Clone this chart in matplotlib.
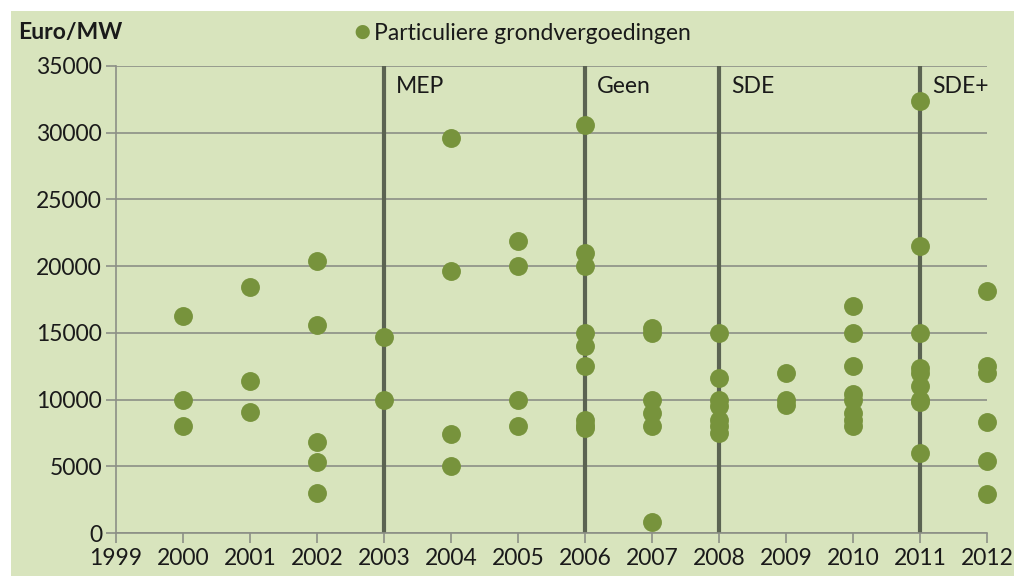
import matplotlib
matplotlib.use("Agg")
import matplotlib.pyplot as plt
from matplotlib.patches import Rectangle

plt.rcParams['font.family'] = ['Lato', 'DejaVu Sans']

# values (Euro/MW per year)
years = [2000, 2001, 2002, 2003, 2004, 2005, 2006, 2007, 2008, 2009, 2010, 2011, 2012]
values = [
    [16300, 10000, 8000],
    [18400, 11400, 9100],
    [20400, 15600, 6800, 5300, 3000],
    [14700, 10000],
    [29600, 19600, 7400, 5000],
    [21900, 20000, 10000, 8000],
    [30600, 21000, 20000, 15000, 14000, 12500, 8500, 8100, 7900],
    [15400, 15000, 10000, 9000, 8000, 800],
    [15000, 11600, 10000, 9500, 8500, 8000, 7500],
    [12000, 10000, 9600],
    [17000, 15000, 12500, 10400, 10000, 9000, 8500, 8000],
    [32400, 21500, 15000, 12400, 12000, 11000, 10000, 9800, 6000],
    [18100, 12500, 12000, 8300, 5400, 2900],
]
regime_years = [2003, 2006, 2008, 2011]
regime_labels = ["MEP", "Geen", "SDE", "SDE+"]

bg = "#d8e4bd"
dot = "#77933c"
fs = 16.5

fig = plt.figure(figsize=(10.14, 5.76), dpi=100)
fig.patches.append(Rectangle((11 / 1014, 0), 1, 1 - 11 / 576, transform=fig.transFigure,
                             facecolor=bg, edgecolor="none", zorder=-1))
ax = fig.add_axes([116 / 1014, 1 - 533 / 576, (987 - 116) / 1014, (533 - 66) / 576])
ax.set_facecolor(bg)

xs = []
ys = []
for yr, vals in zip(years, values):
    for v in vals:
        xs.append(yr)
        ys.append(v)

for yr, lab in zip(regime_years, regime_labels):
    ax.plot([yr, yr], [0, 35000], color="#5b6352", lw=3, zorder=2, solid_capstyle="butt")
    ax.text(yr + 0.18, 33500, lab, fontsize=fs, color="#1a1a1a", va="center", ha="left")

ax.scatter(xs, ys, s=185, color=dot, zorder=3, linewidths=0, clip_on=False)

ax.set_xlim(1999, 2012)
ax.set_ylim(0, 35000)
ax.set_xticks(range(1999, 2013))
ax.set_yticks(range(0, 35001, 5000))
ax.yaxis.grid(True, color="#8c8f86", lw=1.2)
ax.set_axisbelow(True)
for s in ["top", "right"]:
    ax.spines[s].set_visible(False)
for s in ["left", "bottom"]:
    ax.spines[s].set_color("#8c8f86")
    ax.spines[s].set_linewidth(1.2)
ax.tick_params(axis="both", colors="#8c8f86", length=7, width=1.2, labelsize=fs,
               labelcolor="#1a1a1a", direction="out")
ax.tick_params(axis="x", pad=4)
ax.tick_params(axis="y", pad=3)

fig.text(18 / 1014, 1 - 33 / 576, "Euro/MW", fontsize=fs, fontweight="bold",
         color="#1a1a1a", va="center", ha="left")
fig.text(362 / 1014, 1 - 33 / 576, "\u25cf", fontsize=21, color=dot, va="center", ha="center")
fig.text(374 / 1014, 1 - 33 / 576, "Particuliere grondvergoedingen", fontsize=fs,
         color="#1a1a1a", va="center", ha="left")

fig.savefig("out.png", dpi=100, facecolor="white")
